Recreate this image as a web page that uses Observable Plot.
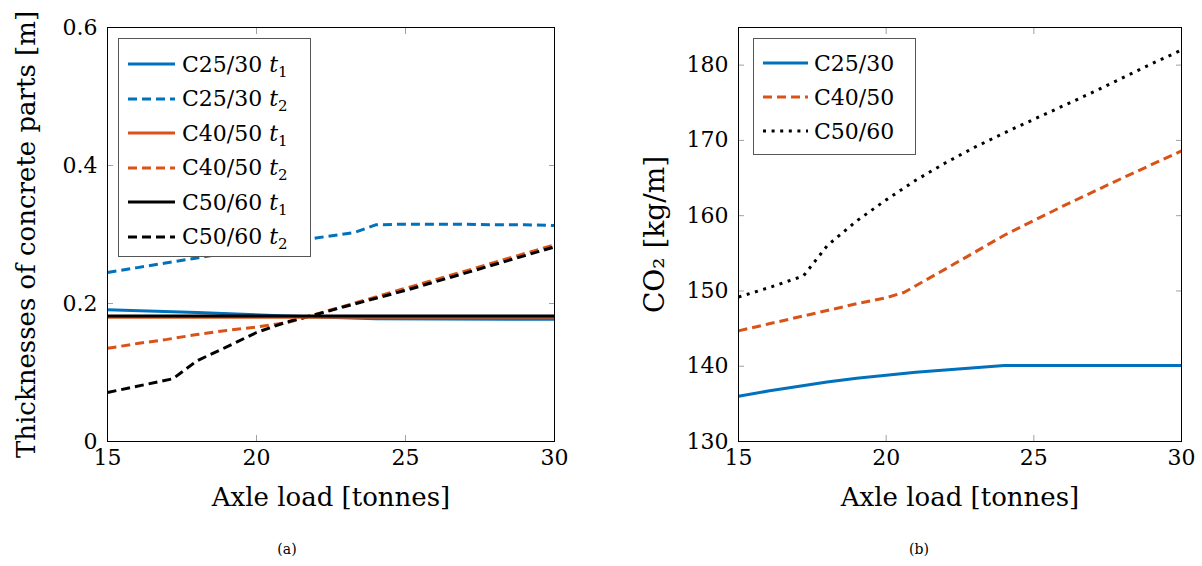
<!DOCTYPE html>
<html><head><meta charset="utf-8">
<script src="https://cdn.jsdelivr.net/npm/d3@7"></script>
<script src="https://cdn.jsdelivr.net/npm/@observablehq/plot@0.6"></script>
<style>
body{margin:0;background:#fff;font-family:"DejaVu Serif",serif;color:#000}
#wrap{position:relative;width:1202px;height:566px;overflow:hidden}
.panel{position:absolute;top:0}
.legend{position:absolute;border:1px solid #555;background:#fff;box-sizing:border-box;font-size:22px;z-index:2}
.row{display:flex;align-items:center;white-space:nowrap}
.row svg{flex:none}
.cap{position:absolute;top:541px;font-size:14px;transform:translateX(-50%)}
sub{font-size:15px;vertical-align:-5px;line-height:0}
</style></head><body><div id="wrap"></div>
<script>
// ---------- Data: (a) thicknesses of concrete parts [m] ----------
const xTicks = [15, 20, 25, 30];
const thickTicks = [0, 0.2, 0.4, 0.6];
const co2Ticks = [130, 140, 150, 160, 170, 180];

const loadC2530t1 = [15, 18, 21, 24, 30];
const thickC2530t1 = [0.191, 0.187, 0.182, 0.178, 0.177];
const loadC4050t1 = [15, 30];
const thickC4050t1 = [0.180, 0.180];
const loadC5060t1 = [15, 30];
const thickC5060t1 = [0.182, 0.182];
const loadC2530t2 = [15, 16, 17, 18, 19, 20, 21, 22, 23.3, 24, 25, 26, 27, 28, 29, 30];
const thickC2530t2 = [0.245, 0.252, 0.259, 0.266, 0.273, 0.280, 0.287, 0.295, 0.303, 0.314, 0.315, 0.315, 0.315, 0.314, 0.314, 0.313];
const loadC4050t2 = [15, 16, 17, 18, 19, 20, 21, 23, 25, 27, 30];
const thickC4050t2 = [0.135, 0.142, 0.148, 0.155, 0.161, 0.166, 0.172, 0.197, 0.222, 0.247, 0.285];
const loadC5060t2 = [15, 17.2, 18, 19, 20, 21, 22, 23, 25, 27, 30];
const thickC5060t2 = [0.071, 0.091, 0.117, 0.137, 0.158, 0.173, 0.184, 0.196, 0.219, 0.244, 0.282];

// ---------- Data: (b) CO2 [kg/m] ----------
const loadC2530 = [15, 16, 17, 18, 19, 20, 21, 22, 23, 24, 30];
const co2C2530 = [136.0, 136.7, 137.3, 137.9, 138.4, 138.8, 139.2, 139.5, 139.8, 140.1, 140.1];
const loadC4050 = [15, 16, 17, 18, 19, 20, 20.6, 22, 24, 26, 28, 30];
const co2C4050 = [144.7, 145.6, 146.5, 147.4, 148.3, 149.1, 149.8, 152.9, 157.4, 161.3, 165.0, 168.6];
const loadC5060 = [15, 16, 17.2, 18, 19, 20, 21, 22, 23, 24, 25, 26, 27, 28, 29, 30];
const co2C5060 = [149.2, 150.4, 152.0, 156.0, 159.3, 162.1, 164.7, 167.0, 169.1, 171.0, 172.8, 174.6, 176.4, 178.3, 180.2, 182.0];

const BLUE = "#0072BD", ORANGE = "#D95319", BLACK = "#000";
const DASH = "9,5", DOT = "3,5.6";

const zip = (xs, ys) => xs.map((x, i) => ({x, y: ys[i]}));

const seriesA = [
  {name: "C25/30", t: "1", data: zip(loadC2530t1, thickC2530t1), color: BLUE, dash: null},
  {name: "C25/30", t: "2", data: zip(loadC2530t2, thickC2530t2), color: BLUE, dash: DASH},
  {name: "C40/50", t: "1", data: zip(loadC4050t1, thickC4050t1), color: ORANGE, dash: null},
  {name: "C40/50", t: "2", data: zip(loadC4050t2, thickC4050t2), color: ORANGE, dash: DASH},
  {name: "C50/60", t: "1", data: zip(loadC5060t1, thickC5060t1), color: BLACK, dash: null},
  {name: "C50/60", t: "2", data: zip(loadC5060t2, thickC5060t2), color: BLACK, dash: DASH}
];
const seriesB = [
  {name: "C25/30", data: zip(loadC2530, co2C2530), color: BLUE, dash: null},
  {name: "C40/50", data: zip(loadC4050, co2C4050), color: ORANGE, dash: DASH},
  {name: "C50/60", data: zip(loadC5060, co2C5060), color: BLACK, dash: DOT}
];

const FONT = "'DejaVu Serif', serif";
const H = 520;

function panel({width, marginLeft, marginRight, yDomain, yTicks, yFmt, yLabel, yLabelDx, yLabelSize, series, drawOrder}) {
  const tickStyle = {stroke: "#a0a0a0", tickSize: -6, tickFormat: () => "", label: null};
  return Plot.plot({
    width, height: H, marginLeft, marginRight, marginTop: 27, marginBottom: 79,
    style: {fontFamily: FONT, fontSize: "22px", background: "transparent", color: "#000", overflow: "visible"},
    x: {domain: [15, 30]},
    y: {domain: yDomain},
    marks: [
      Plot.axisX({ticks: xTicks, ...tickStyle}),
      Plot.axisX({anchor: "top", ticks: xTicks, ...tickStyle}),
      Plot.axisY({ticks: yTicks, ...tickStyle}),
      Plot.axisY({anchor: "right", ticks: yTicks, ...tickStyle}),
      Plot.axisX({ticks: xTicks, tickSize: 0, tickPadding: 8, label: null, fontSize: 22, fontFamily: FONT}),
      Plot.axisY({ticks: yTicks, tickSize: 0, tickPadding: 10, tickFormat: yFmt, label: null, fontSize: 22, fontFamily: FONT}),
      ...drawOrder.map(i => series[i]).map(s => Plot.line(s.data, {
        x: "x", y: "y", stroke: s.color, strokeWidth: 3,
        strokeDasharray: s.dash ?? undefined, strokeLinejoin: "round", strokeLinecap: "butt"
      })),
      Plot.frame({stroke: "#000", strokeWidth: 1}),
      Plot.text(["Axle load [tonnes]"], {frameAnchor: "bottom", dy: 64, fontSize: 26, fontFamily: FONT}),
      Plot.text([yLabel], {frameAnchor: "left", textAnchor: "middle", dx: yLabelDx, rotate: -90, fontSize: yLabelSize, fontFamily: FONT})
    ]
  });
}

const wrap = document.getElementById("wrap");

const left = panel({
  width: 600, marginLeft: 107, marginRight: 46,
  yDomain: [0, 0.6], yTicks: thickTicks, yFmt: d => String(d),
  yLabel: "Thicknesses of concrete parts [m]", yLabelDx: -81, yLabelSize: 26,
  series: seriesA, drawOrder: [0, 1, 3, 5, 2, 4]
});
left.classList.add("panel"); left.style.left = "0px";
wrap.appendChild(left);

const right = panel({
  width: 601, marginLeft: 137, marginRight: 21,
  yDomain: [130, 185], yTicks: co2Ticks, yFmt: d => String(d),
  yLabel: "CO₂ [kg/m]", yLabelDx: -83, yLabelSize: 28,
  series: seriesB, drawOrder: [0, 1, 2]
});
right.classList.add("panel"); right.style.left = "601px";
wrap.appendChild(right);

function legend(series, {left, top, width, height, rowH, padTop, lineX, lineW, gap, withT}) {
  const div = document.createElement("div");
  div.className = "legend";
  Object.assign(div.style, {left: left + "px", top: top + "px", width: width + "px", height: height + "px", paddingTop: padTop + "px"});
  for (const s of series) {
    const row = document.createElement("div");
    row.className = "row";
    row.style.height = rowH + "px";
    row.style.paddingLeft = lineX + "px";
    const dash = s.dash ? ` stroke-dasharray="${s.dash}"` : "";
    row.innerHTML = `<svg width="${lineW}" height="10"><line x1="0" x2="${lineW}" y1="5" y2="5" stroke="${s.color}" stroke-width="3"${dash}/></svg>` +
      `<span style="margin-left:${gap}px">${s.name}${withT ? ` <i>t</i><sub>${s.t}</sub>` : ""}</span>`;
    div.appendChild(row);
  }
  wrap.appendChild(div);
}
legend(seriesA, {left: 118, top: 38, width: 193, height: 219, rowH: 34.5, padTop: 8, lineX: 9, lineW: 47, gap: 7, withT: true});
legend(seriesB, {left: 753, top: 38, width: 163, height: 117, rowH: 34, padTop: 7, lineX: 9, lineW: 45, gap: 6, withT: false});

for (const [txt, x] of [["(a)", 287], ["(b)", 919]]) {
  const c = document.createElement("div");
  c.className = "cap"; c.textContent = txt; c.style.left = x + "px";
  wrap.appendChild(c);
}
</script>
</body></html>
